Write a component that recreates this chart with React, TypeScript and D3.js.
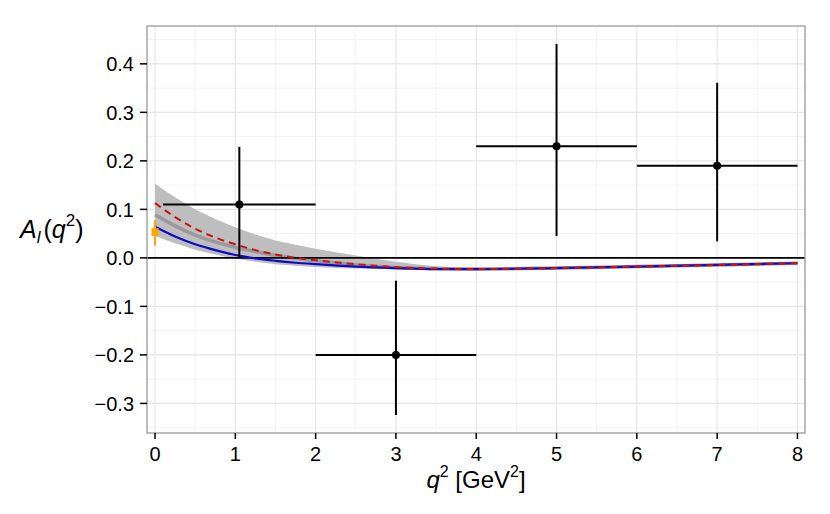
import React from "react";
import * as d3 from "d3";

// Model curves sampled in q^2
const curveQ2 = [0, 0.25, 0.5, 0.75, 1, 1.25, 1.5, 1.75, 2, 2.5, 3, 3.5, 4, 5, 6, 7, 8];
const bandUpper = [0.153, 0.125, 0.1, 0.08, 0.063, 0.048, 0.036, 0.027, 0.019, 0.005, -0.008, -0.017, -0.021, -0.0195, -0.017, -0.0135, -0.0102];
const bandLower = [0.045, 0.03, 0.017, 0.007, -0.002, -0.008, -0.013, -0.016, -0.019, -0.022, -0.024, -0.025, -0.0245, -0.0225, -0.019, -0.0155, -0.0118];
const grayCentral = [0.089, 0.066, 0.047, 0.033, 0.022, 0.013, 0.005, -0.001, -0.006, -0.014, -0.02, -0.022, -0.023, -0.021, -0.018, -0.0145, -0.011];
const redDashed = [0.113, 0.084, 0.06, 0.042, 0.028, 0.016, 0.007, 0.0, -0.005, -0.013, -0.019, -0.022, -0.023, -0.021, -0.018, -0.0145, -0.011];
const blueSolid = [0.064, 0.044, 0.028, 0.016, 0.006, -0.001, -0.006, -0.01, -0.013, -0.018, -0.021, -0.023, -0.023, -0.021, -0.018, -0.0145, -0.011];

// Binned measurements
const binCenter = [1.05, 3, 5, 7];
const binLow = [0.1, 2, 4, 6];
const binHigh = [2, 4, 6, 8];
const binValue = [0.11, -0.2, 0.23, 0.19];
const binErrLow = [0.0, -0.324, 0.045, 0.034];
const binErrHigh = [0.229, -0.047, 0.441, 0.361];

// q^2 = 0 point
const zeroPointQ2 = [0];
const zeroPointValue = [0.053];
const zeroPointLow = [0.025];
const zeroPointHigh = [0.078];

const xTicks = [0, 1, 2, 3, 4, 5, 6, 7, 8];
const xMinor = [0.5, 1.5, 2.5, 3.5, 4.5, 5.5, 6.5, 7.5];
const yTicks = [-0.3, -0.2, -0.1, 0.0, 0.1, 0.2, 0.3, 0.4];
const yMinor = [-0.35, -0.25, -0.15, -0.05, 0.05, 0.15, 0.25, 0.35, 0.45];

const W = 830;
const H = 514;
const L = 147;
const R = 805;
const T = 26;
const B = 433;

export default function App() {
  const x = d3.scaleLinear().domain([-0.1, 8.094]).range([L, R]);
  const y = d3.scaleLinear().domain([0.478, -0.361]).range([T, B]);

  const pts = curveQ2.map((q, i) => i);
  const area = d3
    .area<number>()
    .x((i) => x(curveQ2[i]))
    .y0((i) => y(bandLower[i]))
    .y1((i) => y(bandUpper[i]))
    .curve(d3.curveMonotoneX);
  const line = (arr: number[]) =>
    d3
      .line<number>()
      .x((i) => x(curveQ2[i]))
      .y((i) => y(arr[i]))
      .curve(d3.curveMonotoneX)(pts) || "";

  const font = "'Liberation Sans', Arial, Helvetica, sans-serif";

  return (
    <svg
      width={W}
      height={H}
      style={{ position: "fixed", left: 0, top: 0, background: "#fff" }}
      fontFamily={font}
    >
      <rect x={0} y={0} width={W} height={H} fill="#fff" />
      <defs>
        <clipPath id="panel">
          <rect x={L} y={T} width={R - L} height={B - T} />
        </clipPath>
      </defs>
      {/* grid */}
      {xMinor.map((v) => (
        <line key={"xm" + v} x1={x(v)} x2={x(v)} y1={T} y2={B} stroke="#f2f2f2" strokeWidth={1} />
      ))}
      {yMinor.map((v) => (
        <line key={"ym" + v} x1={L} x2={R} y1={y(v)} y2={y(v)} stroke="#f2f2f2" strokeWidth={1} />
      ))}
      {xTicks.map((v) => (
        <line key={"xg" + v} x1={x(v)} x2={x(v)} y1={T} y2={B} stroke="#e5e5e5" strokeWidth={1.1} />
      ))}
      {yTicks.map((v) => (
        <line key={"yg" + v} x1={L} x2={R} y1={y(v)} y2={y(v)} stroke="#e5e5e5" strokeWidth={1.1} />
      ))}

      <g clipPath="url(#panel)">
        <path d={area(pts) || ""} fill="#bebebe" stroke="none" />
        <path d={line(grayCentral)} fill="none" stroke="#9a9a9a" strokeWidth={3.5} />
        <line x1={L} x2={R} y1={y(0)} y2={y(0)} stroke="#000" strokeWidth={1.7} />
        <path d={line(blueSolid)} fill="none" stroke="#0c0cc8" strokeWidth={2.2} />
        <path d={line(redDashed)} fill="none" stroke="#cc1111" strokeWidth={2} strokeDasharray="7,5" />

        {binCenter.map((c, i) => (
          <g key={"bin" + i}>
            <line x1={x(binLow[i])} x2={x(binHigh[i])} y1={y(binValue[i])} y2={y(binValue[i])} stroke="#000" strokeWidth={2} />
            <line x1={x(c)} x2={x(c)} y1={y(binErrLow[i])} y2={y(binErrHigh[i])} stroke="#000" strokeWidth={2} />
            <circle cx={x(c)} cy={y(binValue[i])} r={4} fill="#000" />
          </g>
        ))}

        {zeroPointQ2.map((q, i) => (
          <g key={"zp" + i}>
            <line x1={x(q)} x2={x(q)} y1={y(zeroPointLow[i])} y2={y(zeroPointHigh[i])} stroke="#ffa500" strokeWidth={2} />
            <rect x={x(q) - 3.5} y={y(zeroPointValue[i]) - 4} width={7} height={8} fill="#ffa500" />
          </g>
        ))}
      </g>

      {/* border */}
      <rect x={L} y={T} width={R - L} height={B - T} fill="none" stroke="#999" strokeWidth={1.3} />

      {/* axes ticks */}
      {xTicks.map((v) => (
        <g key={"xt" + v}>
          <line x1={x(v)} x2={x(v)} y1={B} y2={B + 6} stroke="#000" strokeWidth={1.5} />
          <text x={x(v)} y={461} textAnchor="middle" fontSize={20} fill="#000">
            {d3.format("d")(v)}
          </text>
        </g>
      ))}
      {yTicks.map((v) => (
        <g key={"yt" + v}>
          <line x1={L - 7} x2={L} y1={y(v)} y2={y(v)} stroke="#000" strokeWidth={1.5} />
          <text x={134} y={y(v)} dy="0.36em" textAnchor="end" fontSize={20} fill="#000">
            {d3.format(".1f")(v).replace("-", "\u2212")}
          </text>
        </g>
      ))}

      {/* axis titles */}
      <text x={476} y={488} textAnchor="middle" fontSize={24} fill="#000">
        <tspan fontStyle="italic">q</tspan>
        <tspan fontSize={16} dy={-11}>2</tspan>
        <tspan dy={11}> [GeV</tspan>
        <tspan fontSize={16} dy={-11}>2</tspan>
        <tspan dy={11}>]</tspan>
      </text>
      <text x={20} y={238} textAnchor="start" fontSize={25} fill="#000">
        <tspan fontStyle="italic">A</tspan>
        <tspan fontStyle="italic" fontSize={17} dy={5}>l</tspan>
        <tspan dy={-5} dx={3}>(</tspan>
        <tspan fontStyle="italic">q</tspan>
        <tspan fontSize={17} dy={-12}>2</tspan>
        <tspan dy={12}>)</tspan>
      </text>
    </svg>
  );
}
